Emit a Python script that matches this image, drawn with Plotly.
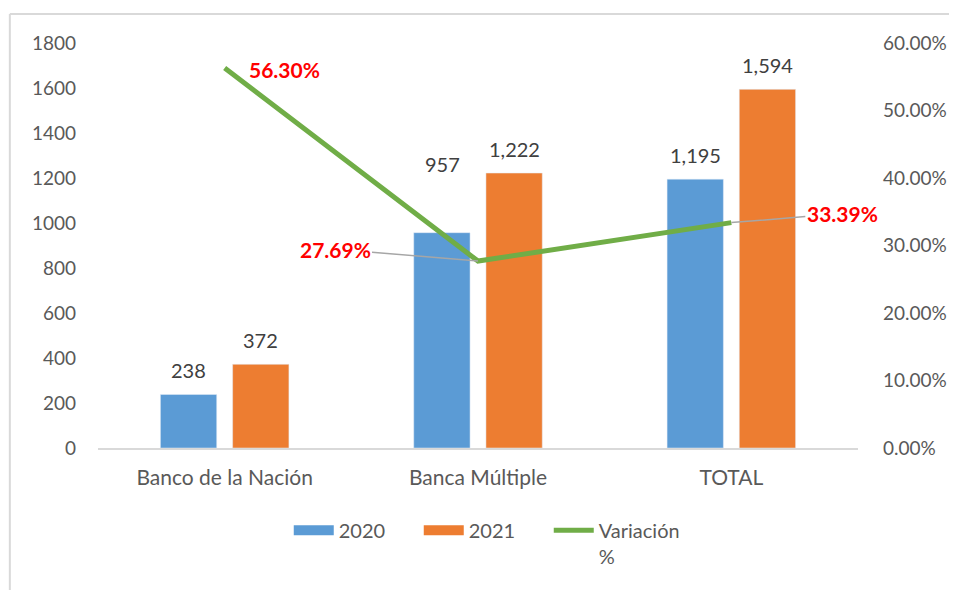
import plotly.graph_objects as go

categorias = ['Banco de la Nación', 'Banca Múltiple', 'TOTAL']
valores_2020 = [238, 957, 1195]
valores_2021 = [372, 1222, 1594]
variacion = [0.5630, 0.2769, 0.3339]

izq_ticks = [0, 200, 400, 600, 800, 1000, 1200, 1400, 1600, 1800]

fuente = 'Lato'
gris = '#595959'
azul, naranja, verde = '#5B9BD5', '#ED7D31', '#70AD47'

fig = go.Figure()

fig.add_trace(go.Bar(x=categorias, y=valores_2020, name='2020',
                     marker_color=azul, showlegend=False, legendgroup='a'))
fig.add_trace(go.Bar(x=categorias, y=valores_2021, name='2021',
                     marker_color=naranja, showlegend=False, legendgroup='b'))
fig.add_trace(go.Scatter(
    x=categorias, y=variacion, name='Variación<br>%',
    mode='lines', yaxis='y2', showlegend=False, legendgroup='c',
    line=dict(color=verde, width=5)
))

# entradas de leyenda con muestras rectangulares
for nombre, color, ancho, grupo in [('2020', azul, 13, 'a'), ('2021', naranja, 13, 'b'),
                                    ('Variación<br>%', verde, 5, 'c')]:
    fig.add_trace(go.Scatter(x=[None], y=[None], mode='lines', name=nombre,
                             legendgroup=grupo,
                             line=dict(color=color, width=ancho)))

# etiquetas de las barras
desp_x = [-36, 36]
desp_y = {('Banca Múltiple', 0): 69}
for j, serie in enumerate([valores_2020, valores_2021]):
    for cat, v in zip(categorias, serie):
        fig.add_annotation(x=cat, y=v, text=f'{v:,}', showarrow=False,
                           xshift=desp_x[j], yshift=desp_y.get((cat, j), 24),
                           font=dict(size=20, color='#404040', family=fuente))

# etiquetas de la variación
rojo = dict(size=21, color='#FF0000', family=fuente, weight='bold')
fig.add_annotation(x=categorias[0], y=variacion[0], yref='y2',
                   text=f'{variacion[0]:.2%}', showarrow=False,
                   xanchor='left', xshift=22, yshift=-2, font=rojo)
fig.add_annotation(x=categorias[1], y=variacion[1], yref='y2',
                   text=f'{variacion[1]:.2%}', showarrow=True,
                   arrowhead=0, arrowwidth=1.5, arrowcolor='#A6A6A6',
                   ax=-143, ay=-12, font=rojo)
fig.add_annotation(x=categorias[2], y=variacion[2], yref='y2',
                   text=f'{variacion[2]:.2%}', showarrow=True,
                   arrowhead=0, arrowwidth=1.5, arrowcolor='#A6A6A6',
                   ax=111, ay=-9, font=rojo)

# marco del gráfico
fig.add_shape(type='line', xref='paper', yref='paper',
              x0=-0.116, x1=1.2, y0=1.0716, y1=1.0716,
              line=dict(color='#D9D9D9', width=2))
fig.add_shape(type='line', xref='paper', yref='paper',
              x0=-0.116, x1=-0.116, y0=1.0716, y1=-0.4,
              line=dict(color='#D9D9D9', width=2))

fig.update_layout(
    width=949, height=582,
    margin=dict(l=90, r=99, t=35, b=142, autoexpand=False),
    paper_bgcolor='white', plot_bgcolor='white',
    barmode='group', bargap=0.43, bargroupgap=0.22,
    font=dict(family=fuente, size=18, color=gris),
    showlegend=True,
    legend=dict(orientation='h', x=0.251, xanchor='left',
                y=-0.155, yanchor='top', font=dict(size=20, color=gris),
                entrywidth=75, entrywidthmode='pixels', valign='top',
                itemwidth=40, traceorder='normal'),
    xaxis=dict(range=[-0.5, 2.5], showline=True, linecolor='#D9D9D9',
               linewidth=1.5, ticks='', ticklabelstandoff=10, automargin=False,
               tickfont=dict(size=21, color=gris)),
    yaxis=dict(range=[0, 1800], tickvals=izq_ticks, showgrid=False,
               zeroline=False, ticklabelstandoff=21, automargin=False,
               tickfont=dict(size=19, color=gris)),
    yaxis2=dict(range=[0, 0.6], dtick=0.1, tickformat='.2%',
                overlaying='y', side='right', showgrid=False,
                zeroline=False, ticklabelstandoff=24, automargin=False,
                tickfont=dict(size=19, color=gris)),
)

fig.write_html('out.html')
